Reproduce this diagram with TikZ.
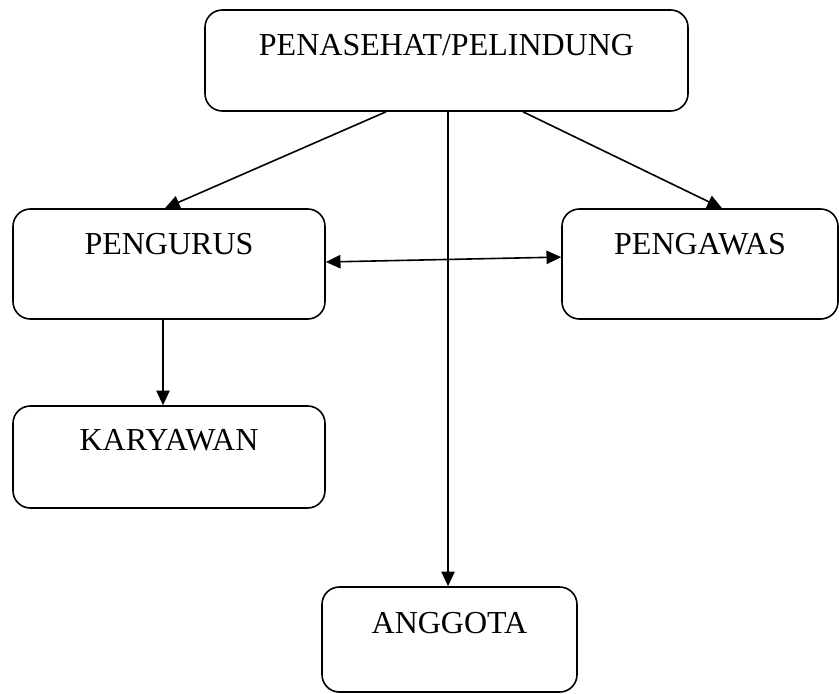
\documentclass[tikz,border=0pt]{standalone}
\usepackage{fontspec}
\setmainfont{Liberation Serif}
\usetikzlibrary{arrows.meta}
\tikzset{
  box/.style n args={3}{draw,line width=1.2pt,rounded corners=13pt,inner sep=0pt,
    font=\fontsize{24}{28}\selectfont,minimum width=#1,text height=#2,text depth=#3},
  ar/.style={-{Triangle[length=11pt,width=10pt]},line width=1.2pt},
  dar/.style={{Triangle[length=11pt,width=10pt]}-{Triangle[length=11pt,width=10pt]},line width=1.2pt},
}
\begin{document}
\begin{tikzpicture}[x=0.75pt,y=-0.75pt]
  \useasboundingbox (0,0) rectangle (839,693);
  % ---- boxes
  \node[box={362.25pt}{33.75pt}{42pt}] (pen) at (446.5,60.5) {PENASEHAT/PELINDUNG};
  \node[box={234pt}{33.75pt}{48.75pt}] (urus) at (169,264) {PENGURUS};
  \node[box={207pt}{33.75pt}{48.75pt}] (awas) at (700,264) {PENGAWAS};
  \node[box={234pt}{33pt}{43.5pt}] (kary) at (169,457) {KARYAWAN};
  \node[box={191.25pt}{34.5pt}{44.25pt}] (angg) at (449.5,639.5) {ANGGOTA};
  % ---- connectors
  \draw[ar] ([xshift=-45.4pt]pen.south) -- ([xshift=-3pt]urus.north);
  \draw[ar] ([xshift=57.4pt]pen.south) -- ([xshift=16.5pt]awas.north);
  \draw[ar] ([xshift=1.1pt]pen.south) -- ([xshift=-1.1pt]angg.north);
  \draw[dar] ([yshift=1.5pt]urus.east) -- ([yshift=5.2pt]awas.west);
  \draw[ar] ([xshift=-4.5pt]urus.south) -- ([xshift=-4.5pt]kary.north);
\end{tikzpicture}
\end{document}
